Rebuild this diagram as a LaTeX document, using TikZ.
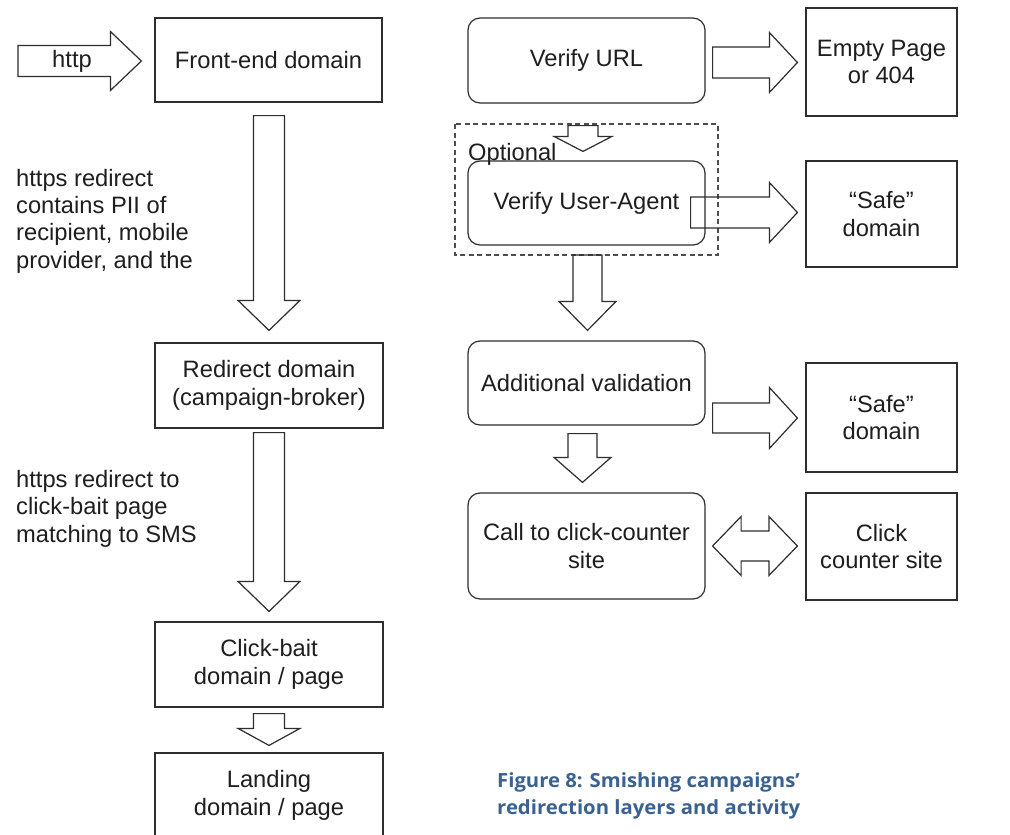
\documentclass[tikz,border=0pt]{standalone}
\usepackage{fontspec}
\setmainfont{Liberation Sans}
\newfontfamily\capfont[FakeStretch=1.04]{Open Sans}
\usetikzlibrary{calc}
\definecolor{ink}{HTML}{2E2E2E}
\definecolor{txt}{HTML}{1E1E1E}
\definecolor{capblue}{HTML}{3A6190}

% block arrows: #1 start, #2 tip, #3 half shaft width, #4 half head width, #5 head length
\newcommand\blockdown[5]{\draw[blockarrow] let \p1=(#1),\p2=(#2) in
  (\x1-#3,\y1) -- (\x1+#3,\y1) -- (\x1+#3,\y2+#5) -- (\x1+#4,\y2+#5) -- (\x1,\y2)
  -- (\x1-#4,\y2+#5) -- (\x1-#3,\y2+#5) -- cycle;}
\newcommand\blockright[5]{\draw[blockarrow] let \p1=(#1),\p2=(#2) in
  (\x1,\y1+#3) -- (\x2-#5,\y1+#3) -- (\x2-#5,\y1+#4) -- (\x2,\y1) -- (\x2-#5,\y1-#4)
  -- (\x2-#5,\y1-#3) -- (\x1,\y1-#3) -- cycle;}
\newcommand\blockboth[5]{\draw[blockarrow] let \p1=(#1),\p2=(#2) in
  (\x1,\y1) -- (\x1+#5,\y1+#4) -- (\x1+#5,\y1+#3) -- (\x2-#5,\y1+#3) -- (\x2-#5,\y1+#4)
  -- (\x2,\y1) -- (\x2-#5,\y1-#4) -- (\x2-#5,\y1-#3) -- (\x1+#5,\y1-#3) -- (\x1+#5,\y1-#4) -- cycle;}

\tikzset{
  every node/.style={font=\fontsize{23.7}{27.3}\selectfont, text=txt},
  box/.style={draw=ink, line width=1.2pt, inner sep=0pt, align=center},
  rbox/.style={box, rounded corners=12pt},
  blockarrow/.style={draw=ink, line width=1.2pt, line join=miter},
  optframe/.style={draw=ink!85, line width=1.1pt, dash pattern=on 5pt off 3.5pt},
  note/.style={align=left, anchor=base west, inner sep=0pt},
}

\begin{document}
\begin{tikzpicture}[x=1pt, y=-1pt]
\useasboundingbox (0,0) rectangle (1010,835);
\clip (0,0) rectangle (1010,835);
\fill[white] (0,0) rectangle (1010,835);

% left column: redirection layers
\node[box, minimum width=227pt, minimum height=84pt] (fe) at (268.5,60) {Front-end domain};
\node[box, minimum width=228pt, minimum height=85pt] (rd) at (269,385.5) {Redirect domain\\(campaign-broker)};
\node[box, minimum width=228pt, minimum height=85pt] (cb) at (269,664.5) {Click-bait\\domain / page};
\node[box, minimum width=228pt, minimum height=85pt] (ld) at (269,795.5) {Landing\\domain / page};

\coordinate (hs) at (18,61);
\coordinate (ht) at ($(fe.west)+(-13,1)$);
\blockright{hs}{ht}{15.5}{29.5}{31}
\node[inner sep=0pt] (http) at (72,61) {http};

\coordinate (a1s) at ($(fe.south)+(0.5,13)$);
\coordinate (a1t) at ($(rd.north)+(0,-12)$);
\blockdown{a1s}{a1t}{15.5}{31}{30}
\coordinate (a2s) at ($(rd.south)+(0,4)$);
\coordinate (a2t) at ($(cb.north)+(0,-10)$);
\blockdown{a2s}{a2t}{15.5}{31}{30}
\coordinate (a3s) at ($(cb.south)+(0,6)$);
\coordinate (a3t) at ($(ld.north)+(0,-7)$);
\blockdown{a3s}{a3t}{15.5}{31}{17}

% side notes (base anchor sits on the last line)
\node[note] (n1) at (16,268) {https redirect\\contains PII of\\recipient, mobile\\provider, and the};
\node[note] (n2) at (16,542) {https redirect to\\click-bait page\\matching to SMS};

% right column: activity checks
\node[rbox, minimum width=237pt, minimum height=85pt] (vu) at (586.5,60.5) {Verify URL};
\node[box, minimum width=151pt, minimum height=108pt] (ep) at (881.5,62) {Empty Page\\or 404};
\node[rbox, minimum width=237pt, minimum height=84pt] (ua) at (586.5,203) {Verify User-Agent};
\node[box, minimum width=151pt, minimum height=106pt] (s1) at (881.5,214) {“Safe”\\domain};
\node[rbox, minimum width=237pt, minimum height=84pt] (av) at (586.5,383) {Additional validation};
\node[box, minimum width=151pt, minimum height=109pt] (s2) at (881.5,417.5) {“Safe”\\domain};
\node[rbox, minimum width=237pt, minimum height=106pt] (cc) at (586.5,546) {Call to click-counter\\site};
\node[box, minimum width=151pt, minimum height=107pt] (ct) at (881.5,546.5) {Click\\counter site};

% optional step frame
\draw[optframe] (455,124) rectangle (718,255);
\node[anchor=base west, inner sep=0pt] (opt) at (468,160) {Optional};

\coordinate (b1s) at ($(vu.east)+(7,2)$);
\coordinate (b1t) at ($(ep.west)+(-8,0)$);
\blockright{b1s}{b1t}{15.5}{30}{28}
\coordinate (b2s) at ($(vu.south)+(-3.5,22)$);
\coordinate (b2t) at ($(ua.north)+(0,-9)$);
\blockdown{b2s}{b2t}{15}{29}{15}
\coordinate (b3s) at ($(ua.east)+(-15,9.5)$);
\coordinate (b3t) at ($(s1.west)+(-8,-2)$);
\blockright{b3s}{b3t}{15.5}{30}{28}
\coordinate (b4s) at (587.5,255);
\coordinate (b4t) at ($(av.north)+(1,-10)$);
\blockdown{b4s}{b4t}{14.5}{28.5}{29}
\coordinate (b5s) at ($(av.east)+(7,35)$);
\coordinate (b5t) at ($(s2.west)+(-8,0.5)$);
\blockright{b5s}{b5t}{15}{30.5}{28}
\coordinate (b6s) at ($(av.south)+(-4,8)$);
\coordinate (b6t) at ($(cc.north)+(0,-10)$);
\blockdown{b6s}{b6t}{14.5}{28.5}{25}
\coordinate (b7l) at ($(cc.east)+(7,0)$);
\coordinate (b7r) at ($(ct.west)+(-8,-0.5)$);
\blockboth{b7l}{b7r}{15}{29.5}{28.5}

% caption (base anchor sits on the last line)
\node[anchor=base west, inner sep=0pt, align=left,
      font=\capfont\bfseries\fontsize{19.5}{27}\selectfont, text=capblue] (cap)
      at (497,814) {Figure 8: Smishing campaigns’\\redirection layers and activity};
\end{tikzpicture}
\end{document}
